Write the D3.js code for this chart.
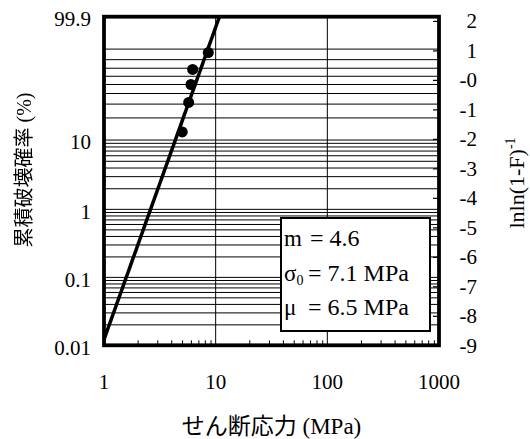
<!DOCTYPE html>
<html><head><meta charset="utf-8">
<script src="https://cdn.jsdelivr.net/npm/d3@7"></script>
<style>body{margin:0;background:#fff}</style>
</head><body><svg id="c" width="530" height="439"></svg>
<script>
// data
const stressMPa = [5.02, 5.73, 6.01, 6.22, 8.59];
const failProbPct = [12.96, 31.48, 50.0, 68.52, 87.04];
const weibullM = 4.6;
const sigma0MPa = 7.1;
const xTickValues = [1, 10, 100, 1000];
const xGridValues = [10, 100];
const leftTickPct = [0.01, 0.1, 1, 10, 99.9];
const leftTickLabels = ["0.01", "0.1", "1", "10", "99.9"];
const gridPct = [90, 80, 70, 60, 50, 40, 30, 20, 10, 9, 8, 7, 6, 5, 4, 3, 2, 1,
  0.9, 0.8, 0.7, 0.6, 0.5, 0.4, 0.3, 0.2, 0.1, 0.09, 0.08, 0.07, 0.06, 0.05, 0.04, 0.03, 0.02];
const rightTickLabels = ["-9", "-8", "-7", "-6", "-5", "-4", "-3", "-2", "-1", "-0", "1", "2"];
const yDomainPct = [0.01, 99.9];
const xDomain = [1, 1000];
const boxSymbols = ["m", "σ", "μ"];
const boxSubs = ["", "0", ""];
const boxValues = ["= 4.6", "= 7.1 MPa", "= 6.5 MPa"];
const xTitle = "せん断応力 (MPa)";
const yTitle = "累積破壊確率 (%)";

const SERIF = '"Liberation Serif", "Times New Roman", Times, serif';
const CJK = '"Liberation Serif", "Noto Sans CJK JP", sans-serif';

const lnln = p => Math.log(-Math.log(1 - p / 100));

const L = 104, R = 439, T = 16.7, B = 345.3;
const svg = d3.select("#c").attr("font-family", SERIF);
const x = d3.scaleLog().domain(xDomain).range([L, R]);
const y = d3.scaleLinear().domain(yDomainPct.map(lnln)).range([B, T]);

svg.append("clipPath").attr("id", "pc").append("rect")
  .attr("x", L).attr("y", T).attr("width", R - L).attr("height", B - T);

// horizontal gridlines
svg.append("g").selectAll("line").data(gridPct).join("line")
  .attr("x1", L).attr("x2", R)
  .attr("y1", d => y(lnln(d))).attr("y2", d => y(lnln(d)))
  .attr("stroke", "#000").attr("stroke-width", 1);
// vertical gridlines
svg.append("g").selectAll("line").data(xGridValues).join("line")
  .attr("y1", T).attr("y2", B)
  .attr("x1", d => x(d)).attr("x2", d => x(d))
  .attr("stroke", "#000").attr("stroke-width", 1);

// bottom minor ticks (inward)
const minor = [];
for (let dec = 1; dec < 1000; dec *= 10) for (let k = 2; k <= 9; k++) minor.push(dec * k);
svg.append("g").attr("transform", `translate(0,${B})`)
  .call(d3.axisTop(x).tickValues(minor).tickSize(5).tickFormat(""))
  .call(g => g.select(".domain").remove())
  .call(g => g.selectAll("line").attr("stroke-width", 1));

// right ticks (inward)
const y0 = y.domain()[0];
const rightTicks = rightTickLabels.map((_, i) => y0 + i);
svg.append("g").attr("transform", `translate(${R},0)`)
  .call(d3.axisLeft(y).tickValues(rightTicks).tickSize(6).tickFormat(""))
  .call(g => g.select(".domain").remove())
  .call(g => g.selectAll("line").attr("stroke-width", 1.2));
svg.append("g").selectAll("text").data(rightTicks).join("text")
  .attr("x", 477).attr("y", d => y(d)).attr("dy", "0.35em")
  .attr("text-anchor", "end").attr("font-size", 21).attr("fill", "#000")
  .text((d, i) => rightTickLabels[i]);

// left labels
svg.append("g").selectAll("text").data(leftTickPct).join("text")
  .attr("x", 91).attr("y", d => y(lnln(d)) + 2).attr("dy", "0.35em")
  .attr("text-anchor", "end").attr("font-size", 21).attr("fill", "#000")
  .text((d, i) => leftTickLabels[i]);

// bottom labels
svg.append("g").selectAll("text").data(xTickValues).join("text")
  .attr("x", d => x(d)).attr("y", 389)
  .attr("text-anchor", "middle").attr("font-size", 21).attr("fill", "#000")
  .text(d => d);

// fitted Weibull line
const fitX = d3.range(0, 201).map(i => Math.pow(10, Math.log10(xDomain[0]) + i * (Math.log10(xDomain[1]) - Math.log10(xDomain[0])) / 200));
svg.append("path").attr("clip-path", "url(#pc)")
  .datum(fitX)
  .attr("d", d3.line().x(d => x(d)).y(d => y(weibullM * Math.log(d / sigma0MPa))))
  .attr("fill", "none").attr("stroke", "#000").attr("stroke-width", 3.5);

// data points
svg.append("g").selectAll("circle").data(stressMPa).join("circle")
  .attr("cx", d => x(d)).attr("cy", (d, i) => y(lnln(failProbPct[i])))
  .attr("r", 5.5).attr("fill", "#000");

// frame
svg.append("rect").attr("x", L).attr("y", T).attr("width", R - L).attr("height", B - T)
  .attr("fill", "none").attr("stroke", "#000").attr("stroke-width", 3.8);

// parameter box
const bx = 281, by = 218, bw = 149, bh = 113;
const eqX = [310, 308, 308];
svg.append("rect").attr("x", bx).attr("y", by).attr("width", bw).attr("height", bh)
  .attr("fill", "#fff").attr("stroke", "#000").attr("stroke-width", 2);
const rowY = i => by + 28 + i * 34.5;
const bt = svg.append("g").selectAll("text").data(boxSymbols).join("text")
  .attr("x", bx + 3).attr("y", (d, i) => rowY(i))
  .attr("font-size", 23).attr("fill", "#000");
bt.append("tspan").text(d => d);
bt.append("tspan").attr("font-size", 14).attr("dy", 4).text((d, i) => boxSubs[i]);
svg.append("g").selectAll("text").data(boxValues).join("text")
  .attr("x", (d, i) => eqX[i]).attr("y", (d, i) => rowY(i))
  .attr("font-size", 24).attr("fill", "#000")
  .text(d => d);

// axis titles
svg.append("text").attr("x", (L + R) / 2).attr("y", 434)
  .attr("text-anchor", "middle").attr("font-size", 23).attr("fill", "#000")
  .attr("font-family", CJK).text(xTitle);
svg.append("text").attr("transform", "translate(31,170) rotate(-90)")
  .attr("text-anchor", "middle").attr("font-size", 20).attr("fill", "#000")
  .attr("style", "filter:grayscale(1)")
  .attr("font-family", CJK).text(yTitle);
const rt = svg.append("text").attr("transform", "translate(524,183) rotate(-90)")
  .attr("text-anchor", "middle").attr("font-size", 22).attr("fill", "#000");
rt.append("tspan").text("lnln(1-F)");
rt.append("tspan").attr("font-size", 14).attr("dy", -9).text("-1");
</script></body></html>
